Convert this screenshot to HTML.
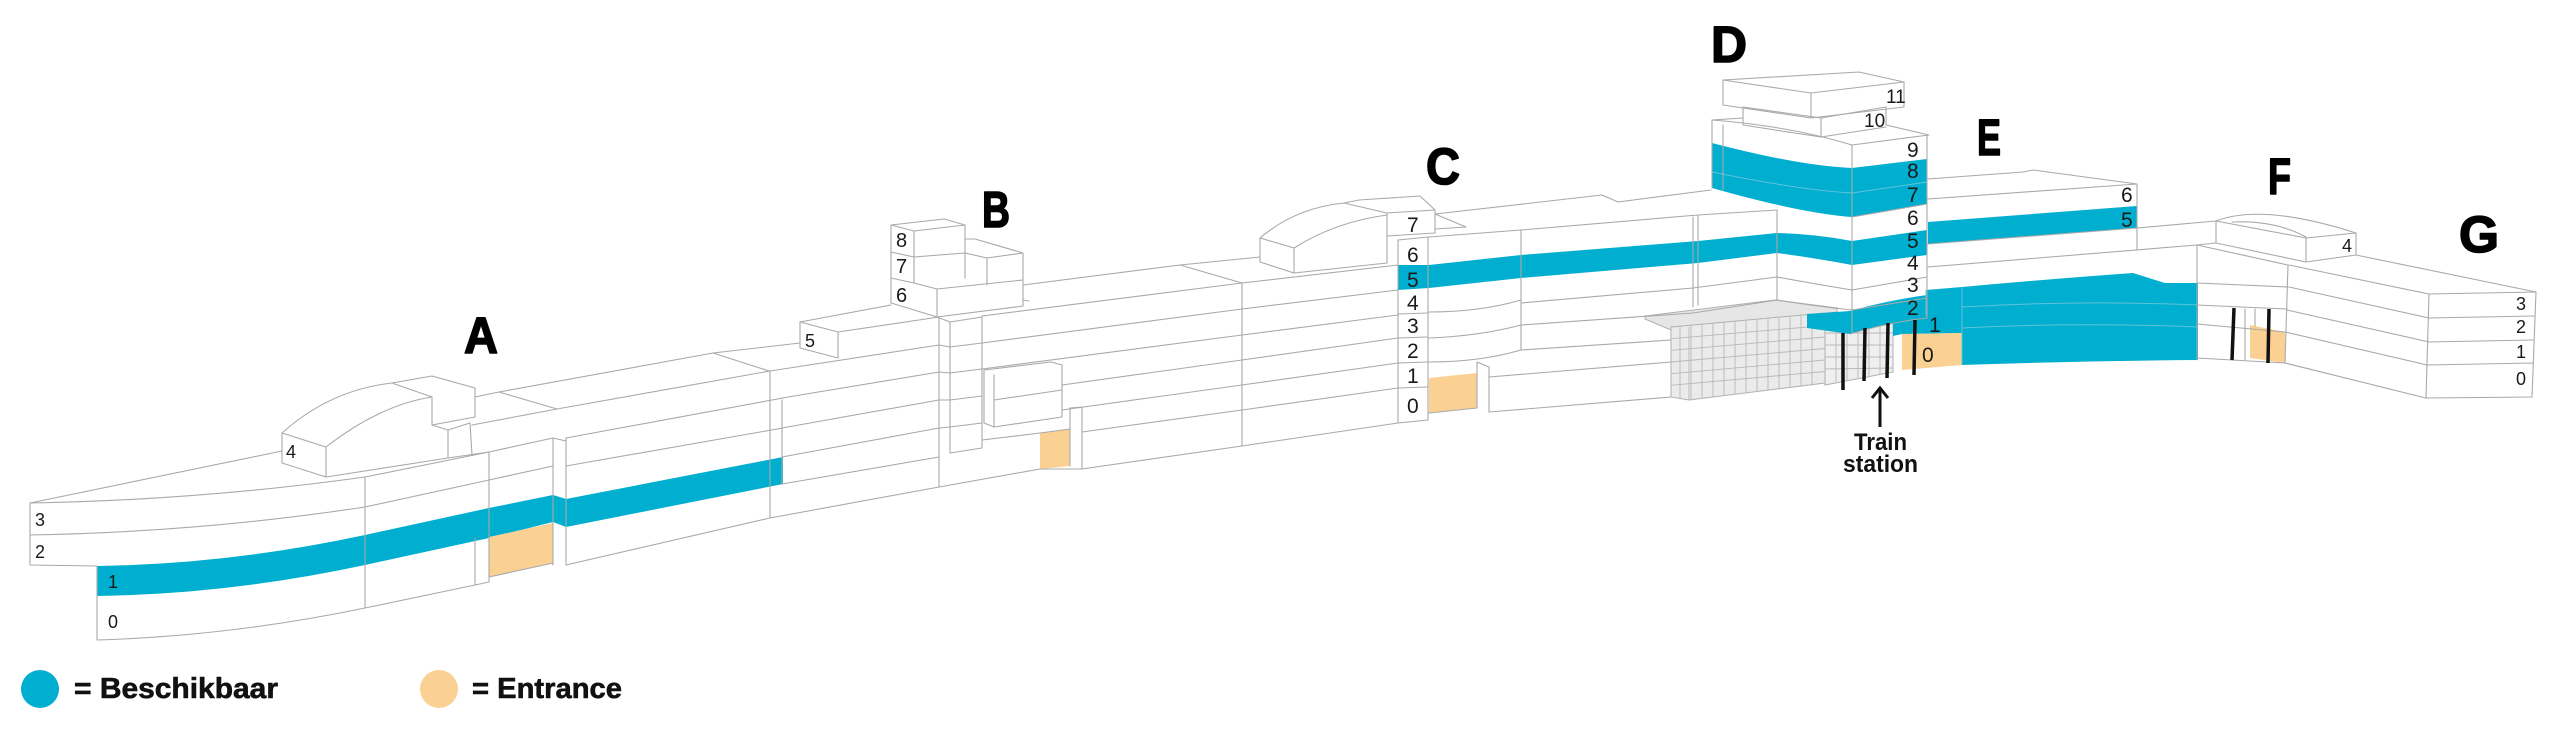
<!DOCTYPE html>
<html><head><meta charset="utf-8">
<style>
html,body{margin:0;padding:0;background:#fff;}
svg{display:block;}
.lbl{font-family:"Liberation Sans",sans-serif;fill:#1a1a1a;}
.big{font-family:"Liberation Sans",sans-serif;font-weight:bold;fill:#000;font-size:51px;stroke:#000;stroke-width:1.6;stroke-linejoin:round;}
</style></head><body>
<svg width="2560" height="742" viewBox="0 0 2560 742" xmlns="http://www.w3.org/2000/svg">
<rect width="2560" height="742" fill="#fff"/>

<!-- grid / station block -->
<g stroke="#b0b0b0" stroke-width="1">
<path d="M1825,318 L1893,322 L1893,372 L1825,385 Z" fill="#efefef"/>
<path d="M1645,316 L1775,300 L1837,308 L1837,312 L1671,330 L1645,319 Z" fill="#e6e6e6"/>
<path d="M1671,327 L1825,313 L1825,383 L1689,400 L1671,397 Z" fill="#ebebeb"/>
</g>
<g stroke="#b8b8b8" stroke-width="0.9" fill="none">
<path d="M1680,326 L1680,398.5 M1691,325.3 L1691,399.8 M1702,324.4 L1702,398.4 M1713,323.4 L1713,397 M1724,322.5 L1724,395.6 M1735,321.6 L1735,394.3 M1746,320.7 L1746,392.9 M1757,319.7 L1757,391.5 M1768,318.8 L1768,390.1 M1779,317.9 L1779,388.8 M1790,316.9 L1790,387.4 M1801,316 L1801,386 M1812,315.1 L1812,384.6"/>
<path d="M1671,338.7 L1825,325.5 M1671,350.3 L1825,337 M1671,362 L1825,348.5 M1671,373.7 L1825,360 M1671,385.3 L1825,371.5 M1689,327 L1689,400"/>
<path d="M1836,320 L1836,382 M1847,321 L1847,380 M1858,321 L1858,378 M1869,322 L1869,376 M1880,322 L1880,374 M1825,333 L1893,333 M1825,345 L1893,345 M1825,357 L1893,357 M1825,369 L1893,368"/>
</g>

<!-- blue fills -->
<g fill="#00AECF" stroke="none">
<path d="M97,566 Q230,564 365,535 L489,508 L553,495 L566,499 L783,457 L783,484 L566,527 L553,522 L489,538 L365,565 Q230,594 97,596 Z"/>
<path d="M1398,265 L1429,265 L1429,288 L1398,290 Z"/>
<path d="M1429,265 L1521,255 L1698,241 L1777,233 Q1815,234 1852,241 L1927,230 L1927,255 L1852,265 Q1815,258 1777,253 L1698,263 L1521,278 L1429,288 Z"/>
<path d="M1712,143 Q1800,166 1852,168 L1927,159 L1927,204 L1852,217 Q1800,213 1712,188 Z"/>
<path d="M1807,314 L1850,311 Q1890,300 1927,295 L1927,318 Q1890,323 1850,334 L1807,328 Z"/>
<path d="M1928,222 L2137,206 L2137,228 L1928,244 Z"/>
<path d="M1893,318 L1926,316 L1926,290 L1962,287 Q2050,279 2133,273 L2165,283 L2198,283 L2198,360 Q2080,361 1962,365 L1962,333 L1902,334 L1893,336 Z"/>
</g>

<!-- orange fills -->
<g fill="#FBD193" stroke="none">
<path d="M489,537 L553,523 L553,563 L489,577 Z"/>
<path d="M1040,433 L1070,429 L1070,466 L1040,469 Z"/>
<path d="M1429,378 L1477,373 L1477,408 L1429,413 Z"/>
<path d="M1902,334 L1962,333 L1962,365 L1902,370 Z"/>
<path d="M2250,325 L2285,332 L2285,363 L2250,358 Z"/>
</g>

<!-- faint lines inside blue -->
<g fill="none" stroke="#5fc3da" stroke-width="1">
<path d="M1962,307 Q2080,300 2198,305 M1962,328 Q2080,322 2198,327 M1962,287 L1962,365 M1712,172 Q1800,190 1852,193 L1927,182 M1926,316 L1926,290"/>
</g>

<!-- building outlines -->
<g fill="none" stroke="#a9a9a9" stroke-width="1.1" stroke-linejoin="round" stroke-linecap="round">
<!-- A front curved -->
<path d="M30,503 L30,565 L97,566 L97,640"/>
<path d="M30,503 Q200,500 365,477"/>
<path d="M30,535 Q200,532 365,507"/>
<path d="M97,640 Q230,636 365,608"/>
<path d="M30,503 L282,451"/>
<path d="M365,477 L365,608"/>
<!-- A2 -->
<path d="M365,477 L489,452 M365,507 L489,480 M365,608 L475,585 L489,582"/>
<path d="M489,452 L489,582 M475,538 L475,585"/>
<!-- A3 -->
<path d="M489,452 L553,438 M489,480 L553,466 M489,577 L553,563"/>
<path d="M553,438 L553,565 M566,438 L566,565 M553,438 L566,441"/>
<!-- A4 -->
<path d="M557,409 L770,371 M566,438 L783,398 M566,466 L783,428 M566,565 L770,518"/>
<path d="M770,371 L770,518 M782,400 L782,484"/>
<!-- A 4 box -->
<path d="M282,433 L326,447 L326,477 L282,463 Z"/>
<path d="M282,433 Q330,390 392,383 L432,376 L475,388"/>
<path d="M326,447 Q380,405 432,397 M392,383 L432,397"/>
<path d="M432,397 L432,425 M475,388 L475,417 L432,425"/>
<path d="M432,425 L448,430 L470,423 M448,430 L448,458 M470,423 L472,455"/>
<path d="M326,477 L448,458 L489,452"/>
<path d="M475,397 L499,392 L557,409 M499,392 L713,353 L769,371 M713,353 L800,343"/>
<path d="M472,425 L557,409"/>
<!-- A5 -->
<path d="M770,371 L939,345 M782,398 L939,372 M782,428 L939,400 M782,457 L939,428 M782,484 L939,457 M770,518 L939,487"/>
<path d="M800,322 L800,348 L838,358 L838,332 Z M838,332 L939,317 M800,322 L891,305"/>
<!-- B tower -->
<path d="M891,225 L944,219 L965,225 L914,231 Z"/>
<path d="M891,225 L891,303 M914,231 L914,283 M891,252 L914,257 L965,253 M891,278 L914,283 M965,225 L965,278"/>
<path d="M965,239 L975,239 L1023,253 L987,258 L965,253 M987,258 L987,285 M1023,253 L1023,306"/>
<path d="M914,283 L937,289 L1023,280 M891,303 L937,317 L1023,306 M937,289 L937,317 M1023,300 L1029,301"/>
<!-- B column -->
<path d="M937,317 L950,322 L982,317 M939,317 L939,487 M950,322 L950,453 M982,317 L982,448 M950,453 L982,448"/>
<path d="M939,345 L950,347 L982,343 M939,372 L950,373 L982,369 M939,400 L950,400 L982,396 M939,428 L950,427 L982,423"/>
<!-- B-C section -->
<path d="M982,316 L1242,283 M982,343 L1242,309 M982,369 L1242,335 M1062,385 L1242,360 M1062,410 L1242,385 M1082,432 L1242,410"/>
<path d="M939,487 L1040,469 L1082,469 L1242,446"/>
<path d="M984,370 L1051,362 L1062,365 L1062,417 L994,427 L984,423 Z M994,375 L994,427 M994,400 L1062,390"/>
<path d="M982,440 L1040,433 L1070,429 M1070,408 L1070,466 M1082,407 L1082,469 M1070,408 L1082,407"/>
<path d="M1242,283 L1242,446"/>
<path d="M1023,285 L1180,265 L1242,283 M1180,265 L1260,257"/>
<!-- C section -->
<path d="M1242,283 L1398,265 M1242,309 L1398,290 M1242,335 L1398,315 M1242,360 L1398,338 M1242,385 L1398,363 M1242,410 L1398,388 M1242,446 L1398,423"/>
<path d="M1398,240 L1428,237 M1398,240 L1398,423 M1428,237 L1428,420 M1398,423 L1428,420"/>
<path d="M1398,314 L1428,313 M1398,338 L1428,337 M1398,363 L1428,362 M1398,388 L1428,387"/>
<!-- C dome -->
<path d="M1260,238 L1294,248 L1294,273 L1260,262 Z M1294,273 L1387,263"/>
<path d="M1294,248 Q1335,222 1387,215 M1260,238 Q1295,208 1344,203 L1359,200 M1344,203 L1387,213 M1387,213 L1387,263"/>
<path d="M1359,200 L1420,196 L1435,210 M1387,213 L1435,210 L1435,233 L1387,236 M1435,214 L1466,227 L1435,229"/>
<path d="M1435,214 L1602,195 L1618,202 L1711,190"/>
<!-- C-D section -->
<path d="M1429,237 L1521,230 L1698,215 L1777,210"/>
<path d="M1521,303 L1693,288 L1777,277 M1521,325 L1693,313 L1777,300 M1521,350 L1671,340 M1489,377 L1671,362 M1489,412 L1671,397"/>
<path d="M1429,312 Q1480,312 1521,300 M1429,338 Q1480,336 1521,325 M1429,362 Q1480,362 1521,350"/>
<path d="M1477,362 L1489,367 L1489,412 M1477,362 L1477,408 M1429,413 L1477,408"/>
<path d="M1521,230 L1521,350 M1693,217 L1693,307 M1698,215 L1698,305 M1777,210 L1777,300"/>
<!-- D lower -->
<path d="M1777,277 Q1815,284 1852,290 M1777,300 Q1815,306 1852,310"/>
<path d="M1852,217 L1927,204 M1852,290 L1927,277 M1852,310 L1927,298"/>
<path d="M1852,145 L1852,333 M1927,135 L1927,318 M1850,334 Q1890,322 1927,318"/>
<!-- D upper -->
<path d="M1712,120 L1712,188 M1723,125 L1723,190"/>
<path d="M1712,120 Q1790,126 1852,145 L1929,135 L1886,125"/>
<path d="M1712,120 L1743,118"/>
<path d="M1743,107 L1743,125 M1743,107 L1821,118 L1821,137 M1821,118 L1886,107 L1886,125 M1743,125 L1821,137 L1886,127"/>
<path d="M1723,80 L1859,72 L1904,82 L1811,93 Z M1723,80 L1723,105 L1811,118 L1904,107 L1904,82 M1811,93 L1811,118"/>
<!-- E -->
<path d="M1928,179 L2023,172 L2033,170 L2137,184 M1928,199 L2137,184 M1928,244 L2137,228 M1928,267 L2197,245 M2137,184 L2137,250"/>
<!-- F -->
<path d="M2137,228 L2216,221 M2197,245 L2216,243 M2197,245 L2197,360"/>
<path d="M2197,245 L2288,265 M2197,283 L2288,287 M2197,305 L2287,309 M2197,324 L2285,332 M2197,358 L2285,363 M2288,265 L2285,363"/>
<path d="M2216,221 L2306,238 L2306,262 L2216,243 Z M2306,238 L2356,233 L2356,255 L2306,262"/>
<path d="M2216,221 Q2262,203 2356,233 M2232,222 Q2275,220 2306,237"/>
<path d="M2245,309 L2245,360 M2255,309 L2255,326"/>
<!-- G -->
<path d="M2356,255 L2536,292 M2289,265 L2429,294 M2289,287 L2429,318 M2287,310 L2429,342 M2285,332 L2427,365 M2285,363 L2426,398"/>
<path d="M2429,294 L2536,292 L2532,397 L2426,398 Z M2429,318 L2534,316 M2428,342 L2533,340 M2427,365 L2533,363"/>
</g>

<!-- black pillars & arrow -->
<g stroke="#111" stroke-width="3.5" stroke-linecap="butt" fill="none">
<path d="M1843,333 L1843,390 M1865,328 L1864,381 M1888,323 L1887,378 M1915,320 L1914,375"/>
<path d="M2234,308 L2232,360 M2269,309 L2268,363"/>
</g>
<g stroke="#111" stroke-width="3" fill="none">
<path d="M1880,427 L1880,390 M1872,398 L1880,388 L1888,398"/>
</g>

<!-- big letters -->
<text class="big" x="464" y="353" textLength="34" lengthAdjust="spacingAndGlyphs">A</text>
<text class="big" x="982" y="227" textLength="28" lengthAdjust="spacingAndGlyphs">B</text>
<text class="big" x="1426" y="184" textLength="34" lengthAdjust="spacingAndGlyphs">C</text>
<text class="big" x="1711" y="62" textLength="36" lengthAdjust="spacingAndGlyphs">D</text>
<text class="big" x="1977" y="155" textLength="24" lengthAdjust="spacingAndGlyphs">E</text>
<text class="big" x="2268" y="194" textLength="23" lengthAdjust="spacingAndGlyphs">F</text>
<text class="big" x="2459" y="252" textLength="40" lengthAdjust="spacingAndGlyphs">G</text>

<!-- floor labels -->
<g class="lbl" font-size="18">
<text x="35" y="526">3</text>
<text x="35" y="558">2</text>
<text x="108" y="588">1</text>
<text x="108" y="628">0</text>
<text x="286" y="458">4</text>
<text x="805" y="347">5</text>
</g>
<g class="lbl" font-size="20">
<text x="896" y="247">8</text>
<text x="896" y="273">7</text>
<text x="896" y="302">6</text>
</g>
<g class="lbl" font-size="21">
<text x="1407" y="232">7</text>
<text x="1407" y="262">6</text>
<text x="1407" y="287">5</text>
<text x="1407" y="310">4</text>
<text x="1407" y="333">3</text>
<text x="1407" y="358">2</text>
<text x="1407" y="383">1</text>
<text x="1407" y="413">0</text>
</g>
<g class="lbl" font-size="21">
<text x="1886" y="103" font-size="19">11</text>
<text x="1864" y="127" font-size="19">10</text>
<text x="1907" y="157">9</text>
<text x="1907" y="178">8</text>
<text x="1907" y="202">7</text>
<text x="1907" y="225">6</text>
<text x="1907" y="248">5</text>
<text x="1907" y="270">4</text>
<text x="1907" y="292">3</text>
<text x="1907" y="315">2</text>
<text x="1929" y="332">1</text>
<text x="1922" y="362">0</text>
<text x="2121" y="202">6</text>
<text x="2121" y="227">5</text>
</g>
<g class="lbl" font-size="18">
<text x="2342" y="252">4</text>
<text x="2516" y="310">3</text>
<text x="2516" y="333">2</text>
<text x="2516" y="358">1</text>
<text x="2516" y="385">0</text>
</g>

<!-- train station -->
<g font-family="'Liberation Sans',sans-serif" font-weight="bold" font-size="24" fill="#111">
<text x="1854" y="450" textLength="53" lengthAdjust="spacingAndGlyphs">Train</text>
<text x="1843" y="472" textLength="75" lengthAdjust="spacingAndGlyphs">station</text>
</g>

<!-- legend -->
<circle cx="40" cy="689" r="19" fill="#00AECF"/>
<text x="74" y="698" font-family="'Liberation Sans',sans-serif" font-weight="bold" font-size="29" fill="#111" stroke="#111" stroke-width="0.6" textLength="204" lengthAdjust="spacingAndGlyphs">= Beschikbaar</text>
<circle cx="439" cy="689" r="19" fill="#FBD193"/>
<text x="472" y="698" font-family="'Liberation Sans',sans-serif" font-weight="bold" font-size="29" fill="#111" stroke="#111" stroke-width="0.6" textLength="150" lengthAdjust="spacingAndGlyphs">= Entrance</text>
</svg>
</body></html>
